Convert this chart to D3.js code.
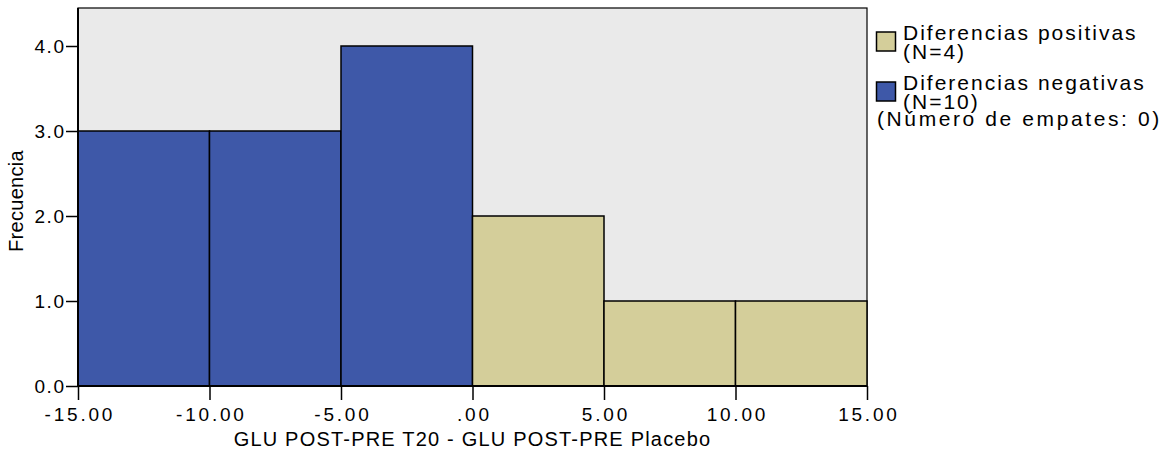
<!DOCTYPE html>
<html>
<head>
<meta charset="utf-8">
<script src="https://cdn.jsdelivr.net/npm/d3@7"></script>
<style>
  html, body { margin: 0; padding: 0; background: #ffffff; }
  svg { display: block; }
  text { font-family: "Liberation Sans", Arial, Helvetica, sans-serif; fill: #000; }
</style>
</head>
<body>
<svg id="chart" width="1166" height="454"></svg>
<script>
// ---- data ----
const binStarts = [-15, -10, -5, 0, 5, 10];
const binEnds   = [-10, -5, 0, 5, 10, 15];
const frequencies = [3, 3, 4, 2, 1, 1];
const binGroup = ["neg", "neg", "neg", "pos", "pos", "pos"];
const xTickValues = [-15, -10, -5, 0, 5, 10, 15];
const xTickLabels = ["-15.00", "-10.00", "-5.00", ".00", "5.00", "10.00", "15.00"];
const yTickValues = [0, 1, 2, 3, 4];
const yTickLabels = ["0.0", "1.0", "2.0", "3.0", "4.0"];
const legendKeys = ["pos", "neg"];
const legendLine1 = ["Diferencias positivas", "Diferencias negativas"];
const legendLine2 = ["(N=4)", "(N=10)"];
const tiesNote = "(Número de empates: 0)";
const titleText = "Prueba de rangos con signo de Wilcoxon para muestras relacionadas";
const xTitle = "GLU POST-PRE T20 - GLU POST-PRE Placebo";
const yTitle = "Frecuencia";

const colors = { pos: "#d4ce9a", neg: "#3e58a8" };

// ---- layout ----
const svg = d3.select("#chart");
const L = 78, R = 867, T = 8, B = 386;

const x = d3.scaleLinear().domain([-15, 15]).range([L, R]);
const y = d3.scaleLinear().domain([0, (B - T) / 85]).range([B, T]);

// title (cropped off above the top edge, as in the reference)
svg.append("text")
  .attr("x", (L + R) / 2).attr("y", -6)
  .attr("text-anchor", "middle")
  .style("font-size", "21px").style("letter-spacing", "1px")
  .text(titleText);

// plot background
svg.append("rect")
  .attr("x", L).attr("y", T).attr("width", R - L).attr("height", B - T)
  .attr("fill", "#eaeaea").attr("stroke", "#000").attr("stroke-width", 1.2);

// bars
const bins = frequencies.map((f, i) => ({ x0: binStarts[i], x1: binEnds[i], f, g: binGroup[i] }));
svg.append("g").selectAll("rect").data(bins).join("rect")
  .attr("x", d => x(d.x0))
  .attr("y", d => y(d.f))
  .attr("width", d => x(d.x1) - x(d.x0))
  .attr("height", d => y(0) - y(d.f))
  .attr("fill", d => colors[d.g])
  .attr("stroke", "#000").attr("stroke-width", 1.5);

// x axis
const xAxis = d3.axisBottom(x)
  .tickValues(xTickValues)
  .tickFormat((d, i) => xTickLabels[i])
  .tickSize(14).tickPadding(7);
const gx = svg.append("g").attr("transform", `translate(0,${B})`).call(xAxis);
gx.select(".domain").attr("stroke", "#000").attr("stroke-width", 2).attr("d", `M${L},0H${R}`);
gx.selectAll(".tick line").attr("stroke", "#000").attr("stroke-width", 1.5);
gx.selectAll(".tick text")
  .attr("font-family", null).attr("font-size", null)
  .style("font-size", "19px").style("letter-spacing", "2.8px")
  .attr("dx", "1.4px").attr("dy", "0.71em").attr("y", 22);

// y axis
const yAxis = d3.axisLeft(y)
  .tickValues(yTickValues)
  .tickFormat((d, i) => yTickLabels[i])
  .tickSize(12).tickPadding(2);
const gy = svg.append("g").attr("transform", `translate(${L},0)`).call(yAxis);
gy.select(".domain").attr("stroke", "#000").attr("stroke-width", 2).attr("d", `M0,${T}V${B}`);
gy.selectAll(".tick line").attr("stroke", "#000").attr("stroke-width", 1.5);
gy.selectAll(".tick text")
  .attr("font-family", null).attr("font-size", null)
  .style("font-size", "19px").style("letter-spacing", "1.6px")
  .attr("dx", "1.6px").attr("dy", "0.36em");

// axis titles
svg.append("text")
  .attr("x", (L + R) / 2).attr("y", 446)
  .attr("text-anchor", "middle")
  .style("font-size", "20px").style("letter-spacing", "1.2px")
  .text(xTitle);

svg.append("text")
  .attr("transform", `translate(23,${(T + B) / 2 + 4}) rotate(-90)`)
  .attr("text-anchor", "middle")
  .style("font-size", "20px").style("letter-spacing", "0.3px")
  .text(yTitle);

// legend
const lg = svg.append("g");
legendKeys.forEach((k, i) => {
  const oy = 32 + i * 50;
  lg.append("rect")
    .attr("x", 876.5).attr("y", oy).attr("width", 19).attr("height", 19)
    .attr("fill", colors[k]).attr("stroke", "#000").attr("stroke-width", 1.5);
  lg.append("text").attr("x", 903).attr("y", oy + 8)
    .style("font-size", "21px").style("letter-spacing", "2px")
    .text(legendLine1[i]);
  lg.append("text").attr("x", 903).attr("y", oy + 27)
    .style("font-size", "21px").style("letter-spacing", "2px")
    .text(legendLine2[i]);
});
lg.append("text").attr("x", 877).attr("y", 126)
  .style("font-size", "21px").style("letter-spacing", "2.6px")
  .text(tiesNote);
</script>
</body>
</html>
